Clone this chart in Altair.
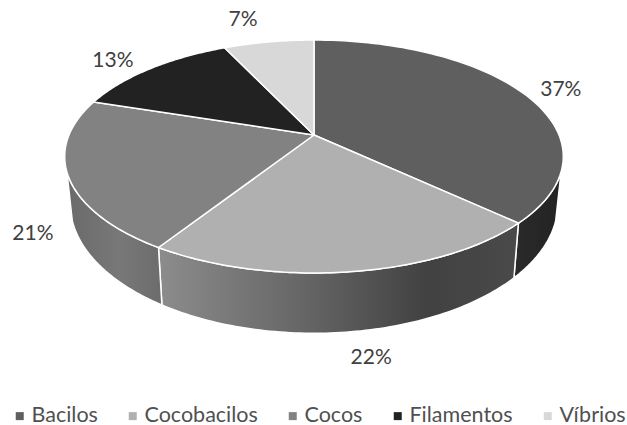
import math
import altair as alt
import pandas as pd

categories = ["Bacilos", "Cocobacilos", "Cocos", "Filamentos", "Víbrios"]
values = [37, 22, 21, 13, 7]
colors = ["#5f5f5f", "#b0b0b0", "#828282", "#222222", "#d8d8d8"]

# Label placement: radial factor and downward shift for each percentage
label_radius = [1.178, 1.52, 1.143, 1.228, 1.567]
label_drop = [4, 15, 53, 7, 31]

# Perspective disc: far edge is compressed by the factor K
CX, CY = 314, 135
RX, RY, K = 245, 112.5, 0.1845
BASE_CY, BASE_RY, BASE_SCALE = 180, 125, 0.978


def rim(theta, base=False, r=1.0):
    s = 1 / (1 + K * math.cos(theta))
    if base:
        return (CX + BASE_SCALE * RX * math.sin(theta) * s,
                BASE_CY - BASE_RY * math.cos(theta) * s)
    return (CX + r * RX * math.sin(theta) * s,
            CY - r * RY * math.cos(theta) * s)


def sweep(a, b, n=80):
    return [a + (b - a) * i / n for i in range(n + 1)]


total = sum(values)
edges = [0.0]
for v in values:
    edges.append(edges[-1] + v / total * 2 * math.pi)

x_scale = alt.Scale(domain=[0, 627], nice=False, zero=False)
y_scale = alt.Scale(domain=[425, 0], nice=False, zero=False)
X = alt.X("x:Q", scale=x_scale, axis=None)
Y = alt.Y("y:Q", scale=y_scale, axis=None)
ORDER = alt.Order("i:Q")


def wall(a, b, stops):
    top = [rim(t) for t in sweep(a, b)]
    bottom = [rim(t, base=True) for t in sweep(b, a)]
    pts = top + bottom + top[:1]
    df = pd.DataFrame({"x": [p[0] for p in pts], "y": [p[1] for p in pts], "i": range(len(pts))})
    fill = alt.Gradient(
        gradient="linear", x1=0, y1=0, x2=1, y2=0,
        stops=[alt.GradientStop(offset=o, color=c) for o, c in stops],
    )
    return alt.Chart(df).mark_line(fill=fill, stroke="white", strokeWidth=1.5).encode(x=X, y=Y, order=ORDER)


# The side wall is drawn between the two silhouette angles of the disc
walls = [
    wall(math.radians(108), edges[1], [(0, "#2a2a2a"), (1, "#232323")]),
    wall(edges[1], edges[2], [(0, "#8c8c8c"), (0.4, "#666666"), (0.75, "#414141"), (1, "#4a4a4a")]),
    wall(edges[2], math.radians(252), [(0, "#6a6a6a"), (0.55, "#787878"), (1, "#6c6c6c")]),
]

rows = []
for k, cat in enumerate(categories):
    ring = [rim(t) for t in sweep(edges[k], edges[k + 1])]
    pts = [(CX, CY)] + ring + [(CX, CY)]
    for i, (x, y) in enumerate(pts):
        rows.append({"cat": cat, "x": x, "y": y, "i": i})

faces = alt.Chart(pd.DataFrame(rows)).mark_line(stroke="white", strokeWidth=1.5).encode(
    x=X, y=Y, order=ORDER,
    fill=alt.Fill(
        "cat:N",
        scale=alt.Scale(domain=categories, range=colors),
        legend=alt.Legend(
            orient="none", legendX=9, legendY=405, direction="horizontal",
            columns=5, title=None, symbolType="square", symbolSize=64,
            symbolStrokeWidth=0, labelFont="Lato", labelFontSize=21.5,
            labelColor="#505050", labelOffset=1, columnPadding=24, labelLimit=200,
        ),
    ),
)

label_rows = []
for k, v in enumerate(values):
    mid = (edges[k] + edges[k + 1]) / 2
    x, y = rim(mid, r=label_radius[k])
    label_rows.append({"x": x, "y": y + label_drop[k], "t": f"{v}%"})

labels = alt.Chart(pd.DataFrame(label_rows)).mark_text(
    font="Lato", fontSize=21, color="#404040"
).encode(x=X, y=Y, text="t:N")

chart = alt.layer(*walls, faces, labels).resolve_scale(fill="independent").properties(
    width=627, height=425, padding=0, autosize=alt.AutoSizeParams(type="none"),
).configure_view(stroke=None)

chart.save("out.html", embed_options={"renderer": "svg", "actions": False})
